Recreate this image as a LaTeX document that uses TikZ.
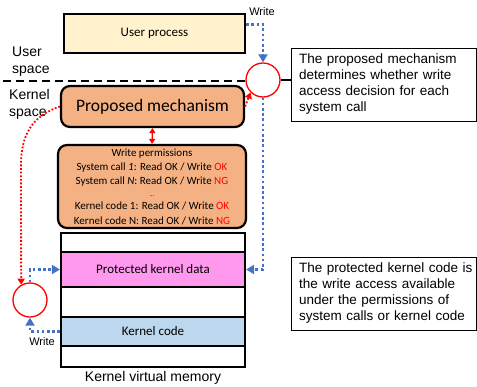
\documentclass[tikz,border=0pt]{standalone}
\usepackage{fontspec}
\setmainfont{Liberation Sans}
\newfontfamily\calfont{Carlito}
\usetikzlibrary{arrows.meta,calc}
\definecolor{userfill}{HTML}{FFF2CC}
\definecolor{mechfill}{HTML}{F4B183}
\definecolor{pinkfill}{HTML}{FF99EE}
\definecolor{bluefill}{HTML}{BDD7EE}
\definecolor{arrowblue}{HTML}{4472C4}
\begin{document}
\begin{tikzpicture}[x=1pt,y=-1pt,
  bbox/.style={draw=black,line width=2.2pt,inner sep=0pt},
  rbox/.style={bbox,rounded corners=9pt,fill=mechfill},
  memrow/.style={draw=black,line width=2.2pt,minimum width=184pt,inner sep=0pt,font=\calfont\fontsize{13}{15}\selectfont},
  circ/.style={circle,draw=red,line width=1.3pt,fill=white,minimum size=34pt,inner sep=0pt},
  bluearr/.style={draw=arrowblue,line width=2.6pt,dash pattern=on 2.6pt off 2.6pt,-{Triangle[length=8pt,width=9pt]}},
  redarr/.style={draw=red,line width=1.8pt,dash pattern=on 1.8pt off 1.8pt,-{Triangle[length=6pt,width=7pt]}},
  note/.style={draw=black,line width=0.9pt,text width=169pt,inner xsep=8pt,inner ysep=0pt,minimum height=73pt,align=left,font=\fontsize{13.5}{16}\selectfont},
  lbl/.style={font=\fontsize{14}{17}\selectfont,align=left,inner sep=0pt},
  wlbl/.style={font=\fontsize{11}{13}\selectfont,inner sep=0pt}
  ]
\useasboundingbox (0,0) rectangle (477,386);

% user process
\node[bbox,fill=userfill,minimum width=181pt,minimum height=39pt,font=\calfont\fontsize{13}{15}\selectfont] (user) at (154.5,33.5) {User process};

% labels
\node[lbl,anchor=west] (us) at (12,61.5) {User\\space};
\node[lbl,anchor=west] (ks) at (9,104) {Kernel\\space};

% circles
\node[circ] (c1) at (263,80) {};
\node[circ] (c2) at (30,300) {};

% dashed separator
\coordinate (dl) at (3,81);
\draw[line width=2.8pt,dash pattern=on 8pt off 5pt] (dl) -- (dl -| c1.west);

% mechanism
\node[rbox,minimum width=183pt,minimum height=41pt,font=\calfont\fontsize{17.5}{20}\selectfont] (mech) at (152.5,106.5) {Proposed mechanism};

% permissions
\node[rbox,minimum width=188pt,minimum height=83pt,align=center,font=\calfont\fontsize{11}{14.2}\selectfont] (perm) at (152,186.5)
 {Write permissions\\
  System call \textit{1}: Read OK / Write \textcolor{red}{OK}\\
  System call \textit{N}: Read OK / Write \textcolor{red}{NG}\\[-2pt]
  {\fontsize{6}{7}\selectfont ...}\\[-1pt]
  Kernel code 1: Read OK / Write \textcolor{red}{OK}\\
  Kernel code N: Read OK / Write \textcolor{red}{NG}};

% memory rows
\node[memrow,minimum height=19pt] (m1) at (153,242.5) {};
\node[memrow,fill=pinkfill,minimum height=35pt] (prot) at (153,269.5) {Protected kernel data};
\node[memrow,minimum height=30pt] (m3) at (153,302) {};
\node[memrow,fill=bluefill,minimum height=29pt] (kcode) at (153,331.5) {Kernel code};
\node[memrow,minimum height=21pt] (m5) at (153,356.5) {};
\node[font=\fontsize{14}{17}\selectfont,inner sep=0pt] (kvm) at (153,377.5) {Kernel virtual memory};

% notes
\node[note] (n1) at (383.5,84.5) {\mbox{The proposed mechanism}\\\mbox{determines whether write}\\\mbox{access decision for each}\\\mbox{system call}};
\node[note] (n2) at (383.5,293.5) {\mbox{The protected kernel code is}\\\mbox{the write access available}\\\mbox{under the permissions of}\\\mbox{system calls or kernel code}};
\draw[line width=2pt] (c1.east) -- (c1.east -| n1.west);

% write labels
\node[wlbl] (w1) at (262,12) {Write};
\node[wlbl] (w2) at (42,342) {Write};

% blue arrows
\draw[bluearr] ($(user.east)+(0,-9)$) -| (c1.north);
\draw[bluearr] (c1.south) |- (prot.east);
\draw[bluearr] (kcode.west) -| (c2.south);
\draw[bluearr] (c2.north) |- (prot.west);

% red arrows
\draw[redarr] (mech.east) -- (c1.south west);
\draw[redarr] (mech.west) .. controls (32,116) and (21,135) .. (21,165) -- (c2.120);
\draw[red,line width=1.3pt,{Triangle[length=5pt,width=6pt]}-{Triangle[length=5pt,width=6pt]}] (mech.south) -- (perm.north);
\end{tikzpicture}
\end{document}
